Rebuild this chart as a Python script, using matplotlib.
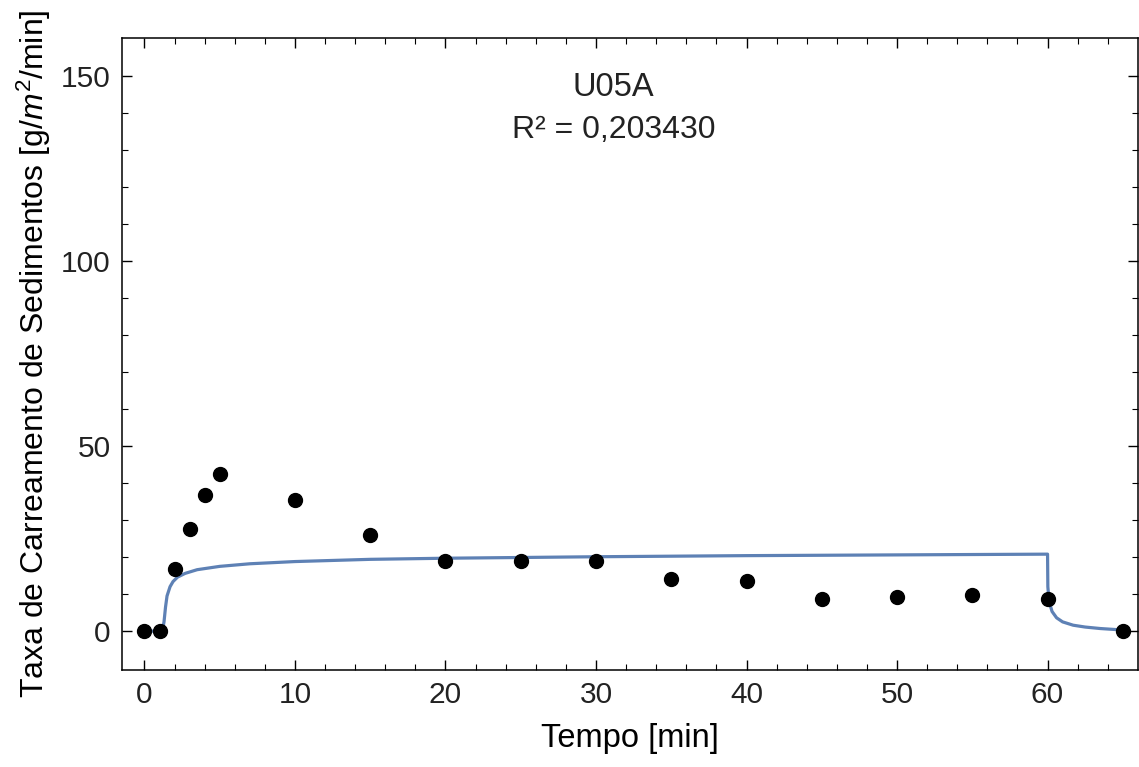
import numpy as np
from matplotlib import pyplot as plt

plt.rcParams['font.family'] = ['Liberation Sans', 'DejaVu Sans']
plt.rcParams['mathtext.fontset'] = 'custom'
plt.rcParams['mathtext.it'] = 'Liberation Sans:italic'
plt.rcParams['mathtext.rm'] = 'Liberation Sans'
plt.rcParams['text.color'] = '#222222'

# measured points
t_obs = [0, 1, 2, 3, 4, 5, 10, 15, 20, 25, 30, 35, 40, 45, 50, 55, 60, 65]
q_obs = [0, 0, 16.8, 27.6, 36.8, 42.4, 35.4, 25.9, 18.9, 18.9, 18.9, 14.1, 13.5,
         8.6, 9.2, 9.7, 8.6, 0]

# fitted curve
t_fit = [0, 1.0, 1.2, 1.3, 1.4, 1.5, 1.7, 1.9, 2.2, 2.7, 3.5, 5.0, 7.0, 10, 15,
         20, 30, 40, 50, 60, 60.02, 60.1, 60.3, 60.6, 61.0, 61.7, 62.5, 63.5, 65]
q_fit = [0, 0, 0.3, 2.5, 6.5, 9.5, 12.0, 13.4, 14.6, 15.6, 16.6, 17.5, 18.2, 18.8, 19.4,
         19.7, 20.1, 20.4, 20.6, 20.8, 12.0, 8.0, 5.3, 3.6, 2.5, 1.6, 1.1, 0.7, 0.3]

fig = plt.figure(figsize=[11.39, 7.67], dpi=100)
ax = fig.add_axes([0.107, 0.1265, 0.892, 0.824])

ax.plot(t_fit, q_fit, c='#5E81B5', lw=2.3, zorder=2)
ax.plot(t_obs, q_obs, 'o', c='k', ms=10, zorder=3)

ax.set_xlim(-1.5, 66)
ax.set_ylim(-10.5, 160.3)
ax.set_xticks([0, 10, 20, 30, 40, 50, 60])
ax.set_xticks(np.arange(0, 66, 2), minor=True)
ax.set_yticks([0, 50, 100, 150])
ax.set_yticks(np.arange(0, 160, 10), minor=True)
ax.tick_params(which='both', direction='in', top=True, right=True, labelsize=21.5, pad=8,
               labelcolor='#222222')
ax.tick_params(which='major', length=7, width=1)
ax.tick_params(which='minor', length=4, width=0.8)
for s in ax.spines.values():
    s.set_linewidth(1.1)

ax.set_xlabel('Tempo [min]', fontsize=23.5, labelpad=10)
ax.set_ylabel(r'Taxa de Carreamento de Sedimentos [g/$m^2$/min]', fontsize=23, labelpad=6)

ax.text(0.484, 0.922, 'U05A', transform=ax.transAxes, ha='center', va='center', fontsize=23.5)
ax.text(0.484, 0.854, 'R² = 0,203430', transform=ax.transAxes, ha='center', va='center', fontsize=23)

plt.savefig('out.png', dpi=100)
